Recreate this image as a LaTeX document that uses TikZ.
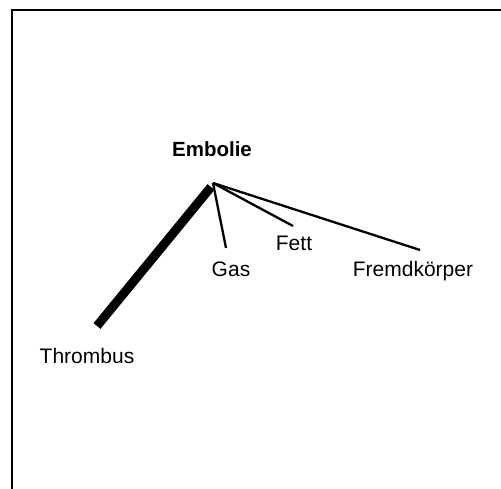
\documentclass[tikz,border=0pt]{standalone}
\usepackage{fontspec}
\setmainfont{Liberation Sans}
\begin{document}
\begin{tikzpicture}[x=1pt,y=-1pt,
  lbl/.style={anchor=base,inner sep=0pt,font=\fontsize{21}{24}\selectfont},
  thin branch/.style={line width=2.3pt},
  thick branch/.style={line width=9pt},
  frame/.style={line width=2.5pt}]
\useasboundingbox (0,0) rectangle (501,489);
\draw[frame] (12,489) -- (12,10) -- (501,10);
\coordinate (apex) at (213,183);
\coordinate (apexT) at (211,187);
\coordinate (tEnd) at (97,326);
\coordinate (gEnd) at (226,248);
\coordinate (fEnd) at (293,226);
\coordinate (frEnd) at (420,250);
\node[lbl,font=\fontsize{20.5}{24}\selectfont\bfseries] (embolie) at (212,157) {Embolie};
\node[lbl] (gas) at (231,277) {Gas};
\node[lbl] (fett) at (294,251) {Fett};
\node[lbl] (fremd) at (413,277) {Fremdkörper};
\node[lbl] (thrombus) at (87,363) {Thrombus};
\draw[thick branch] (apexT) -- (tEnd);
\draw[thin branch] (apex) -- (gEnd);
\draw[thin branch] (apex) -- (fEnd);
\draw[thin branch] (apex) -- (frEnd);
\end{tikzpicture}
\end{document}
